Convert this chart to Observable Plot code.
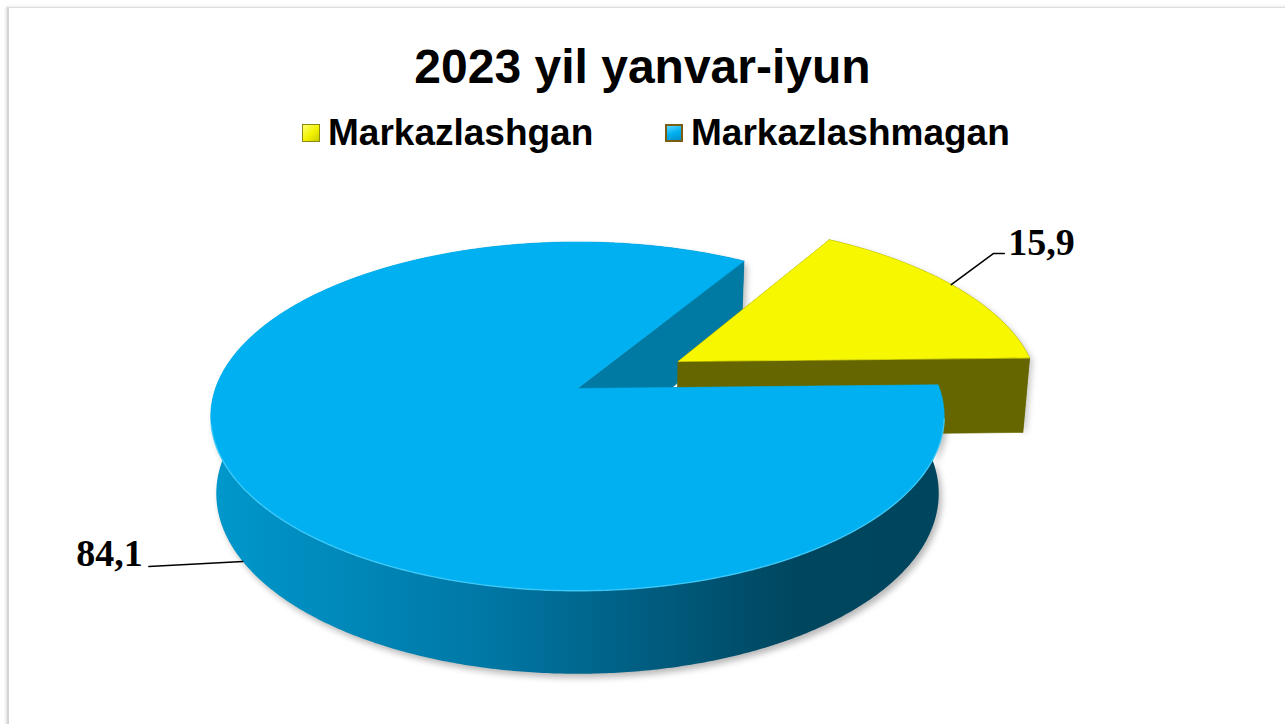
<!DOCTYPE html>
<html><head><meta charset="utf-8">
<script src="https://cdn.jsdelivr.net/npm/d3@7"></script>
<script src="https://cdn.jsdelivr.net/npm/@observablehq/plot@0.6"></script>
<style>
html,body{margin:0;padding:0;background:#fff;width:1285px;height:724px;overflow:hidden;font-family:"Liberation Sans",Arial,sans-serif;position:relative}
#frame{position:absolute;left:7px;top:7px;width:1300px;height:740px;border-top:1px solid #dedede;border-left:2px solid #d4d4d4;box-shadow:-1px 0 3px rgba(0,0,0,0.15);pointer-events:none}
#title{height:57px;padding-top:43px;font-size:48px;line-height:48px;font-weight:bold;text-align:center;color:#000}
#legend{height:56px;padding-top:14px;position:relative}
.item{position:absolute;top:14px;height:37px;display:flex;align-items:center;font-size:37px;line-height:37px;font-weight:bold;color:#000}
.sw{width:18px;height:18px;margin-right:8px;box-sizing:border-box}
#chart{position:relative;height:554px}
</style></head>
<body>
<div id="frame"></div>
<div id="title"></div>
<div id="legend"></div>
<div id="chart"></div>
<script>
// ---- data ----
const titleText = "2023 yil yanvar-iyun";
const categories = ["Markazlashgan", "Markazlashmagan"];
const values = [15.9, 84.1];
const valueLabels = ["15,9", "84,1"];

// ---- styles / layout ----
const topColors = ["#f7f700", "#00b0f0"];
const cutColors = ["#666600", "#0079a3"];
const rimColors = ["#666600", "url(#blueSide)"];
const swatchStyles = [
  "background:linear-gradient(135deg,#ffff70,#f2f200 55%,#caca00);border:1px solid #8a8a10;",
  "background:linear-gradient(160deg,#5ad8ff,#00b0f0 50%,#0090c8);border:2px solid #7a5c12;"
];
const legendX = [302, 665];
const explode = [0.33, 0];
const firstSliceAngle = 31.5;
const W = 1285, TOP = 170, H = 724;
const cx = 577, cy = 388, B = 362, rd = 0.181;
const depth0 = 76, depthSlope = 7, bottomShrink = 0.985;
const elev = 28 * Math.PI / 180, sinE = Math.sin(elev), cosE = Math.cos(elev);

document.getElementById("title").textContent = titleText;
const legend = d3.select("#legend");
categories.forEach((c, i) => {
  const it = legend.append("div").attr("class", "item").style("left", legendX[i] + "px");
  it.append("div").attr("class", "sw").attr("style", swatchStyles[i]);
  it.append("span").text(c);
});

// projection of a point on the top plane (u right, v back) in radius units
function proj(u, v, bottom) {
  const q = 1 + rd * v * cosE;
  let x = cx + B * u / q, y = cy - B * v * sinE / q;
  if (bottom) { x = cx + (x - cx) * bottomShrink; y = y + depth0 - depthSlope * v; }
  return {x, y};
}
const total = d3.sum(values);
let acc = firstSliceAngle;
const slices = values.map((val, i) => {
  const a0 = acc, a1 = acc + val / total * 360; acc = a1;
  const mid = (a0 + a1) / 2 * Math.PI / 180;
  return {i, a0, a1, midDeg: (a0 + a1) / 2, ox: explode[i] * Math.sin(mid), oy: explode[i] * Math.cos(mid)};
});
function pt(s, deg, r, bottom) {
  const t = deg * Math.PI / 180;
  return proj(s.ox + r * Math.sin(t), s.oy + r * Math.cos(t), bottom);
}
function arc(s, from, to, bottom) {
  const n = Math.max(2, Math.ceil(Math.abs(to - from) / 0.5));
  return d3.range(n + 1).map(k => pt(s, from + (to - from) * k / n, 1, bottom));
}
const topFace = s => [pt(s, 0, 0, false), ...arc(s, s.a0, s.a1, false)];
const rimBand = s => [...arc(s, s.a0, s.a1, false), ...arc(s, s.a1, s.a0, true)];
const cutFace = (s, deg) => [pt(s, 0, 0, false), pt(s, deg, 1, false), pt(s, deg, 1, true), pt(s, 0, 0, true)];

function poly(points, fill, opts = {}) {
  const isUrl = fill.startsWith("url");
  return Plot.line(points, {x: "x", y: "y", curve: "linear-closed", fill,
    stroke: isUrl ? "none" : fill, strokeWidth: 0.6, ...opts});
}

const [yl, bl] = slices;
const marks = [
  poly(rimBand(bl), "#000", {fillOpacity: 0.28, stroke: "none", dx: 3, dy: 4, ariaDescription: "shadow"}),
  poly(rimBand(yl), "#000", {fillOpacity: 0.22, stroke: "none", dx: 3, dy: 3, ariaDescription: "shadow"}),
  poly(cutFace(bl, bl.a0), cutColors[1]),
  poly(rimBand(bl), rimColors[1]),
  poly(cutFace(bl, bl.a1), cutColors[1]),
  poly(rimBand(yl), rimColors[0]),
  poly(cutFace(yl, yl.a0), cutColors[0]),
  poly(cutFace(yl, yl.a1), cutColors[0]),
  poly(topFace(yl), topColors[0]),
  poly(topFace(bl), topColors[1]),
  Plot.line(arc(bl, 100, 258, false), {x: "x", y: "y", stroke: "#4fd3ff", strokeWidth: 1.4, strokeOpacity: 0.7})
];

// leader lines & labels
const yAnchor = pt(yl, yl.midDeg - 1, 1, false);
const yElbow = {x: yAnchor.x + 42, y: yAnchor.y - 31};
const yEnd = {x: yElbow.x + 11, y: yElbow.y};
const bAnchor = pt(bl, bl.midDeg - 0.5, 1, true);
const bEnd = {x: bAnchor.x - 94, y: bAnchor.y + 5};
const labelFont = {fontFamily: "Liberation Serif, Times New Roman, serif", fontWeight: "bold", fontSize: 38, fill: "#000", lineAnchor: "bottom"};
marks.push(
  Plot.line([yAnchor, yElbow, yEnd], {x: "x", y: "y", stroke: "#000", strokeWidth: 1.5}),
  Plot.line([bAnchor, bEnd], {x: "x", y: "y", stroke: "#000", strokeWidth: 1.5}),
  Plot.text([{x: yEnd.x + 4, y: yEnd.y + 1, t: valueLabels[0]}], {x: "x", y: "y", text: "t", textAnchor: "start", ...labelFont}),
  Plot.text([{x: bEnd.x - 6, y: bEnd.y - 1, t: valueLabels[1]}], {x: "x", y: "y", text: "t", textAnchor: "end", ...labelFont})
);

const chart = Plot.plot({
  width: W, height: H - TOP, margin: 0,
  x: {domain: [0, W], range: [0, W], axis: null},
  y: {domain: [TOP, H], range: [0, H - TOP], axis: null},
  style: {background: "transparent", overflow: "visible"},
  marks
});
const svg = d3.select(chart);
const defs = svg.insert("defs", ":first-child");
const rx = d3.extent(rimBand(bl), d => d.x);
const grad = defs.append("linearGradient").attr("id", "blueSide").attr("gradientUnits", "userSpaceOnUse")
  .attr("x1", rx[0]).attr("x2", rx[1]).attr("y1", 0).attr("y2", 0);
[[0, "#0098cc"], [0.37, "#0078a6"], [0.62, "#005a7c"], [0.8, "#00465f"], [1, "#00455e"]]
  .forEach(([o, c]) => grad.append("stop").attr("offset", o).attr("stop-color", c));
const f = defs.append("filter").attr("id", "blur").attr("x", "-10%").attr("y", "-10%").attr("width", "120%").attr("height", "120%");
f.append("feGaussianBlur").attr("stdDeviation", 3);
svg.selectAll('[aria-description="shadow"]').attr("filter", "url(#blur)");
document.getElementById("chart").appendChild(chart);
</script>
</body></html>
